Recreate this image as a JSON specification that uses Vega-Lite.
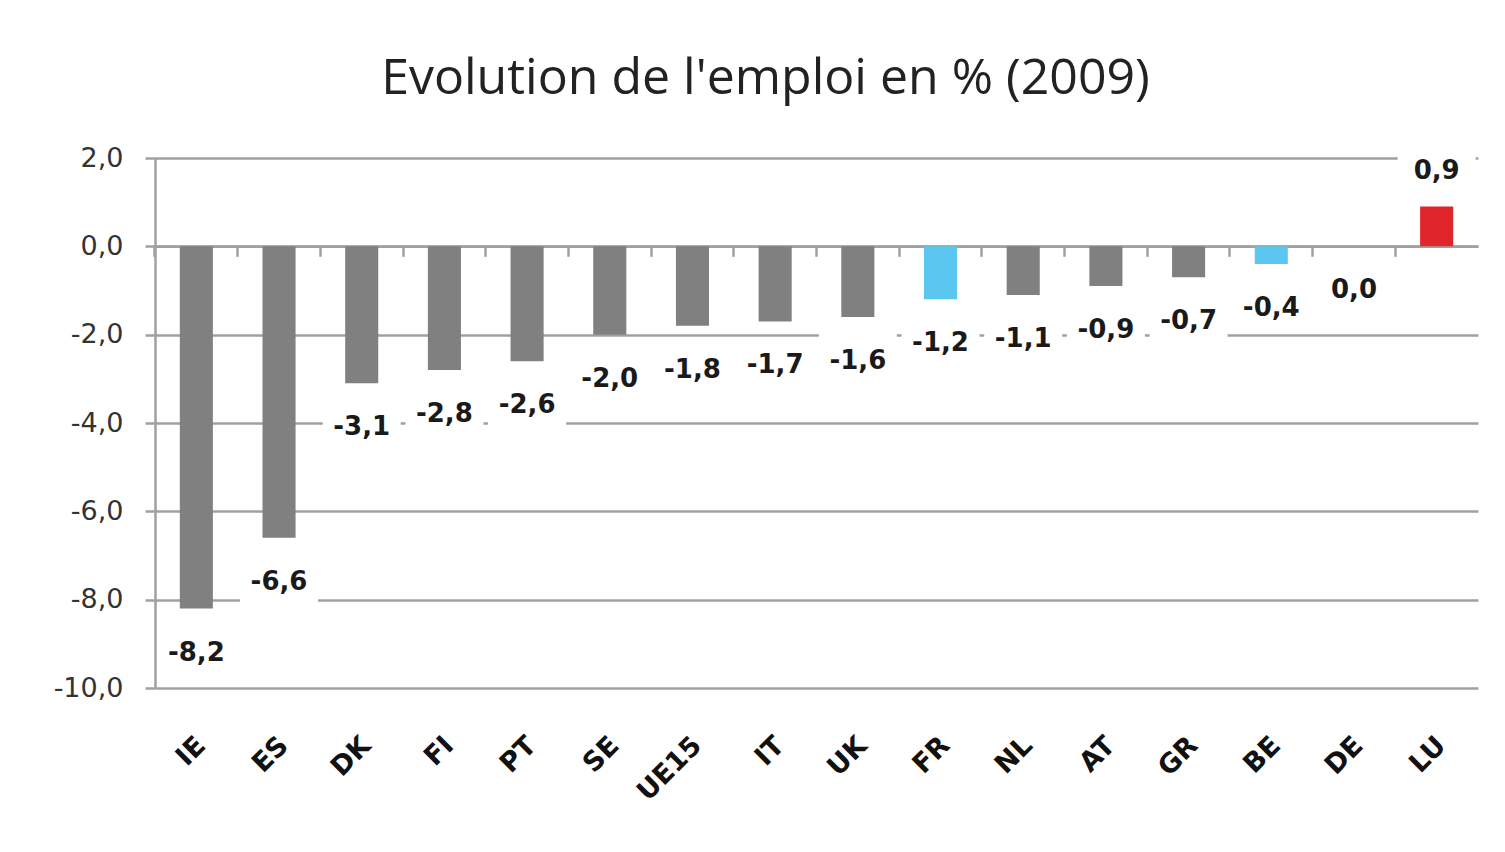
{
  "$schema": "https://vega.github.io/schema/vega-lite/v6.json",
  "width": 1323,
  "height": 530,
  "autosize": "none",
  "padding": {"left": 155, "top": 158, "right": 27, "bottom": 164},
  "background": "white",
  "config": {
    "locale": {"number": {"decimal": ",", "thousands": " ", "grouping": [3], "currency": ["", " €"], "minus": "-"}},
    "view": {"stroke": null},
    "font": "DejaVu Sans"
  },
  "title": {
    "text": "Evolution de l'emploi en % (2009)",
    "font": "Open Sans",
    "fontSize": 50,
    "fontWeight": "normal",
    "color": "#222222",
    "anchor": "middle",
    "frame": "group",
    "baseline": "alphabetic",
    "dx": -51,
    "dy": 63,
    "offset": 62
  },
  "data": {
    "values": [
      {"pays": "IE", "valeur": -8.2, "groupe": "autre"},
      {"pays": "ES", "valeur": -6.6, "groupe": "autre"},
      {"pays": "DK", "valeur": -3.1, "groupe": "autre"},
      {"pays": "FI", "valeur": -2.8, "groupe": "autre"},
      {"pays": "PT", "valeur": -2.6, "groupe": "autre"},
      {"pays": "SE", "valeur": -2.0, "groupe": "autre"},
      {"pays": "UE15", "valeur": -1.8, "groupe": "autre"},
      {"pays": "IT", "valeur": -1.7, "groupe": "autre"},
      {"pays": "UK", "valeur": -1.6, "groupe": "autre"},
      {"pays": "FR", "valeur": -1.2, "groupe": "voisin"},
      {"pays": "NL", "valeur": -1.1, "groupe": "autre"},
      {"pays": "AT", "valeur": -0.9, "groupe": "autre"},
      {"pays": "GR", "valeur": -0.7, "groupe": "autre"},
      {"pays": "BE", "valeur": -0.4, "groupe": "voisin"},
      {"pays": "DE", "valeur": 0.0, "groupe": "autre"},
      {"pays": "LU", "valeur": 0.9, "groupe": "LU"}
    ]
  },
  "encoding": {
    "y": {
      "field": "valeur",
      "type": "quantitative",
      "scale": {"domain": [-10, 2], "nice": false, "zero": false},
      "axis": {
        "values": [-10, -8, -6, -4, -2, 0, 2],
        "format": ".1f",
        "title": null,
        "labelFont": "DejaVu Sans",
        "labelFontSize": 27,
        "labelColor": "#333333",
        "labelPadding": 22,
        "tickSize": 10,
        "tickColor": "#a0a0a0",
        "tickWidth": 2.5,
        "domainColor": "#a0a0a0",
        "domainWidth": 2.5,
        "grid": true,
        "gridColor": "#a0a0a0",
        "gridWidth": 2.5
      }
    }
  },
  "resolve": {"axis": {"x": "independent"}},
  "layer": [
    {
      "mark": {"type": "bar"},
      "encoding": {
        "x": {
          "field": "pays",
          "type": "nominal",
          "sort": null,
          "scale": {"paddingInner": 0.6, "paddingOuter": 0.3},
          "axis": {
            "title": null,
            "labelAngle": -45,
            "labelAlign": "right",
            "labelBaseline": "middle",
            "labelFont": "DejaVu Sans",
            "labelFontSize": 27,
            "labelFontWeight": "bold",
            "labelColor": "#111111",
            "labelPadding": 53,
            "labelOffset": 5,
            "ticks": false,
            "domain": false,
            "grid": false
          }
        },
        "color": {
          "field": "groupe",
          "type": "nominal",
          "scale": {"domain": ["autre", "voisin", "LU"], "range": ["#808080", "#5bc6f0", "#e0262b"]},
          "legend": null
        }
      }
    },
    {
      "transform": [{"filter": "datum.valeur <= 0"}],
      "mark": {"type": "point", "shape": "M-1,0.41L1,0.41L1,1.795L-1,1.795Z", "size": 6084, "filled": true, "fill": "white", "opacity": 1, "strokeWidth": 0},
      "encoding": {
        "x": {
          "field": "pays",
          "type": "nominal",
          "sort": null,
          "axis": {
            "title": null,
            "orient": "bottom",
            "offset": -441.67,
            "labels": false,
            "grid": false,
            "domain": true,
            "domainColor": "#a0a0a0",
            "domainWidth": 2.5,
            "ticks": true,
            "tickSize": 10,
            "tickColor": "#a0a0a0",
            "tickWidth": 2.5,
            "bandPosition": -0.75
          }
        }
      }
    },
    {
      "transform": [{"filter": "datum.valeur > 0"}],
      "mark": {"type": "point", "shape": "M-1,-1.641L1,-1.641L1,-0.205L-1,-0.205Z", "size": 6084, "filled": true, "fill": "white", "opacity": 1, "strokeWidth": 0},
      "encoding": {
        "x": {"field": "pays", "type": "nominal", "sort": null, "axis": null}
      }
    },
    {
      "transform": [{"filter": "datum.valeur <= 0"}],
      "mark": {"type": "text", "dy": 44, "baseline": "middle", "align": "center", "font": "DejaVu Sans", "fontSize": 26, "fontWeight": "bold", "color": "#1a1a1a"},
      "encoding": {
        "x": {"field": "pays", "type": "nominal", "sort": null, "axis": null},
        "text": {"field": "valeur", "type": "quantitative", "format": ".1f"}
      }
    },
    {
      "transform": [{"filter": "datum.valeur > 0"}],
      "mark": {"type": "text", "dy": -36, "baseline": "middle", "align": "center", "font": "DejaVu Sans", "fontSize": 26, "fontWeight": "bold", "color": "#1a1a1a"},
      "encoding": {
        "x": {"field": "pays", "type": "nominal", "sort": null, "axis": null},
        "text": {"field": "valeur", "type": "quantitative", "format": ".1f"}
      }
    }
  ]
}
